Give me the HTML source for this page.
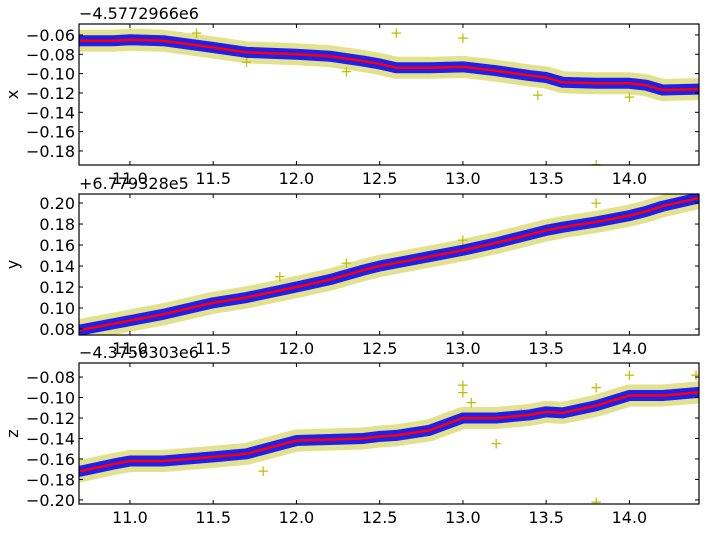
<!DOCTYPE html>
<html><head><meta charset="utf-8"><style>
body{margin:0;background:#fff}
svg{display:block;font-family:"DejaVu Sans","Liberation Sans",sans-serif}
</style></head><body>
<svg id="fig" width="709" height="533"></svg>
<script>
const trendX = [10.7,10.9,11.0,11.2,11.5,11.7,12.0,12.2,12.4,12.5,12.6,12.8,13.0,13.2,13.4,13.5,13.6,13.8,14.0,14.1,14.2,14.42];
const seriesX = [-0.066,-0.066,-0.065,-0.066,-0.073,-0.078,-0.080,-0.082,-0.087,-0.090,-0.094,-0.094,-0.093,-0.097,-0.102,-0.104,-0.109,-0.110,-0.110,-0.112,-0.117,-0.116];
const seriesY = [0.079,0.085,0.088,0.094,0.105,0.110,0.120,0.127,0.136,0.140,0.143,0.149,0.155,0.162,0.170,0.174,0.177,0.182,0.188,0.192,0.197,0.205];
const seriesZ = [-0.172,-0.165,-0.162,-0.162,-0.158,-0.155,-0.142,-0.141,-0.140,-0.138,-0.137,-0.132,-0.120,-0.120,-0.117,-0.114,-0.115,-0.108,-0.098,-0.098,-0.098,-0.095];
const outX = [[11.4,-0.058],[12.6,-0.058],[13.0,-0.063],[13.45,-0.122],[14.0,-0.124],[11.7,-0.088],[12.3,-0.098],[13.8,-0.194]];
const outY = [[11.9,0.130],[12.3,0.143],[13.0,0.165],[13.8,0.200],[14.4,0.210]];
const outZ = [[13.0,-0.088],[13.0,-0.095],[13.05,-0.105],[13.35,-0.115],[13.8,-0.090],[14.0,-0.078],[14.4,-0.078],[13.2,-0.145],[13.8,-0.202],[11.8,-0.172]];
const xTicks = [11.0,11.5,12.0,12.5,13.0,13.5,14.0];
const panels = [
 {name:'x',offset:'\u22124.5772966e6',top:24,ymin:-0.1945,ymax:-0.0487,ticks:[-0.06,-0.08,-0.10,-0.12,-0.14,-0.16,-0.18],vals:seriesX,out:outX},
 {name:'y',offset:'+6.779328e5',top:194,ymin:0.0743,ymax:0.2086,ticks:[0.08,0.10,0.12,0.14,0.16,0.18,0.20],vals:seriesY,out:outY},
 {name:'z',offset:'\u22124.3756303e6',top:363,ymin:-0.204,ymax:-0.0663,ticks:[-0.08,-0.10,-0.12,-0.14,-0.16,-0.18,-0.20],vals:seriesZ,out:outZ}
];
const L=79,R=699,H=141,xmin=10.694,xmax=14.418;
const NS='http://www.w3.org/2000/svg';
const svg=document.getElementById('fig');
function mk(t,a,p){const e=document.createElementNS(NS,t);for(const k in a)e.setAttribute(k,a[k]);(p||svg).appendChild(e);return e;}
const sx=v=>L+(v-xmin)/(xmax-xmin)*(R-L);
const fmt=v=>(v<0?'\u2212':'')+Math.abs(v).toFixed(2);
panels.forEach(p=>{
 const g=mk('g',{});
 
 
 const sy=v=>p.top+(p.ymax-v)/(p.ymax-p.ymin)*H;
 const cp=mk('clipPath',{id:'c'+p.name},g);mk('rect',{x:L,y:p.top,width:R-L,height:H},cp);
 const d=mk('g',{'clip-path':'url(#c'+p.name+')'},g);
 const pts=trendX.map((x,i)=>sx(x)+','+sy(p.vals[i])).join(' ');
 const yb=mk('polyline',{points:pts,fill:'none',stroke:'#c8c832','stroke-width':22,'stroke-linejoin':'round','stroke-linecap':'round',opacity:0.55},d);
 
 
 p.out.forEach(o=>{const t=mk('text',{x:sx(o[0]),y:sy(o[1])+5,'text-anchor':'middle','font-size':15,fill:'#bfbf00'},d);t.textContent='+';
  
  });
 const bb=mk('polyline',{points:pts,fill:'none',stroke:'#1f1fee','stroke-width':11,'stroke-linejoin':'round','stroke-linecap':'round'},d);
 
 
 const rl=mk('polyline',{points:pts,fill:'none',stroke:'#ff0000','stroke-width':2.5},d);
 
 
 const fr=mk('rect',{x:L,y:p.top,width:R-L,height:H,fill:'none',stroke:'#000','stroke-width':1.2},g);
 
 
 xTicks.forEach(t=>{const x=sx(t);
  mk('line',{x1:x,x2:x,y1:p.top+H,y2:p.top+H-4,stroke:'#000'},g);
  mk('line',{x1:x,x2:x,y1:p.top,y2:p.top+4,stroke:'#000'},g);
  const tx=mk('text',{x:x,y:p.top+H+19,'text-anchor':'middle','font-size':16},g);tx.textContent=t.toFixed(1);
  
  });
 p.ticks.forEach(t=>{const y=sy(t);
  mk('line',{x1:L,x2:L+4,y1:y,y2:y,stroke:'#000'},g);
  mk('line',{x1:R,x2:R-4,y1:y,y2:y,stroke:'#000'},g);
  const tx=mk('text',{x:L-4,y:y+6,'text-anchor':'end','font-size':16},g);tx.textContent=fmt(t);
  
  });
 const off=mk('text',{x:L,y:p.top-5,'font-size':16},g);off.textContent=p.offset;
 
 
 const yl=mk('text',{x:0,y:0,'font-size':16,'text-anchor':'middle',transform:'translate(18,'+(p.top+H/2)+') rotate(-90)'},g);yl.textContent=p.name;
 
 
});
</script>
</body></html>
